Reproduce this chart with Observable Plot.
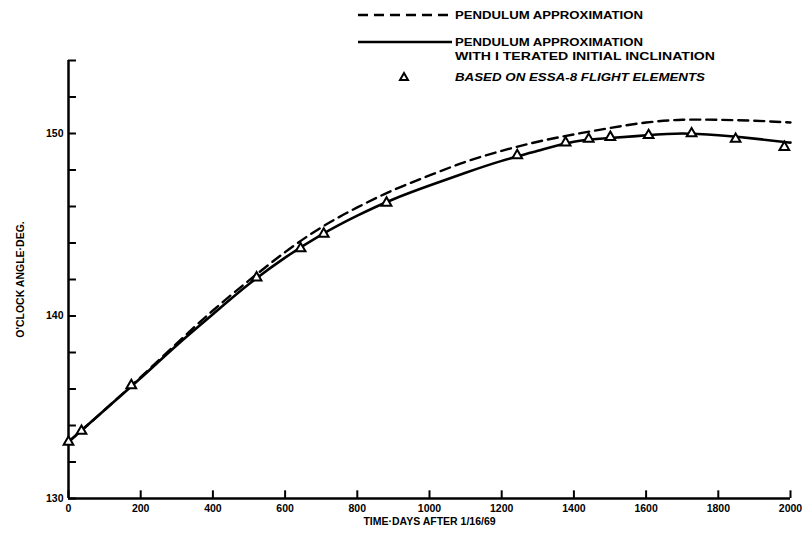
<!DOCTYPE html>
<html>
<head>
<meta charset="utf-8">
<script src="https://cdn.jsdelivr.net/npm/d3@7"></script>
<script src="https://cdn.jsdelivr.net/npm/@observablehq/plot@0.6"></script>
<style>
  html, body { margin: 0; padding: 0; background: #fff; }
  #wrap { position: relative; width: 806px; height: 541px; }
  #legend { position: absolute; left: 0; top: 0; pointer-events: none; }
  text { font-family: "Liberation Sans", Arial, sans-serif; }
</style>
</head>
<body>
<div id="wrap"></div>
<script>
// ---- data ----
const days = [0, 100, 200, 300, 400, 500, 600, 700, 800, 900, 1000,
              1100, 1200, 1300, 1400, 1500, 1600, 1700, 1800, 1900, 2000];
const pendulum = [133.1, 134.85, 136.65, 138.5, 140.3, 141.95, 143.5, 144.85, 145.95, 146.9, 147.7,
                  148.45, 149.05, 149.55, 149.95, 150.3, 150.6, 150.75, 150.75, 150.7, 150.6];
const iterated = [133.1, 134.85, 136.6, 138.4, 140.1, 141.75, 143.2, 144.45, 145.5, 146.4, 147.15,
                  147.85, 148.5, 149.05, 149.55, 149.75, 149.9, 150.0, 149.9, 149.72, 149.5];
const essaDays = [0, 36, 174, 521, 643, 707, 881, 1243, 1377, 1441, 1501, 1607, 1726, 1848, 1983];
const essaDeg = [133.1, 133.7, 136.2, 142.1, 143.7, 144.5, 146.2, 148.8, 149.5, 149.7, 149.8, 149.9, 150.0, 149.7, 149.25];
const xTicks = [0, 200, 400, 600, 800, 1000, 1200, 1400, 1600, 1800, 2000];
const yTicks = [130, 132, 134, 136, 138, 140, 142, 144, 146, 148, 150, 152, 154];
const yLabels = [130, 140, 150];

const pendData = days.map((d, i) => ({day: d, deg: pendulum[i]}));
const iterData = days.map((d, i) => ({day: d, deg: iterated[i]}));
const essaData = essaDays.map((d, i) => ({day: d, deg: essaDeg[i]}));

const chart = Plot.plot({
  width: 806,
  height: 541,
  marginLeft: 68,
  marginRight: 16,
  marginTop: 60,
  marginBottom: 43,
  style: {background: "#fff", color: "#000", fontFamily: "'Liberation Sans', Arial, sans-serif", fontWeight: "bold", fontSize: "10px"},
  x: {domain: [0, 2000]},
  y: {domain: [130, 154]},
  marks: [
    Plot.axisX({ticks: xTicks, tickFormat: d => String(d), tickSize: 0, tickPadding: 6, fontWeight: "bold", fontSize: 10.5,
      label: "TIME·DAYS AFTER 1/16/69", labelAnchor: "center", labelOffset: 26, labelArrow: "none"}),
    Plot.axisY({ticks: yLabels, tickFormat: d => String(d), tickSize: 0, tickPadding: 5, fontWeight: "bold", fontSize: 10.5,
      label: "O'CLOCK ANGLE·DEG.", labelAnchor: "center", labelOffset: 52, labelArrow: "none"}),
    // inward tick marks
    Plot.ruleX(xTicks, {x: d => d, y1: 130, y2: 130.42, stroke: "#000", strokeWidth: 2}),
    Plot.ruleY(yTicks, {y: d => d, x1: 0, x2: 22, stroke: "#000", strokeWidth: 2}),
    // axis lines
    Plot.ruleY([130], {x1: 0, x2: 2000, stroke: "#000", strokeWidth: 2.5}),
    Plot.ruleX([0], {y1: 130, y2: 154, stroke: "#000", strokeWidth: 2.5}),
    // curves
    Plot.line(pendData, {x: "day", y: "deg", curve: "natural", stroke: "#000", strokeWidth: 2.4, strokeDasharray: "10,6"}),
    Plot.line(iterData, {x: "day", y: "deg", curve: "natural", stroke: "#000", strokeWidth: 2.6}),
    Plot.dot(essaData, {x: "day", y: "deg", symbol: "triangle", r: 3.6, fill: "#fff", stroke: "#000", strokeWidth: 2})
  ]
});

const wrap = document.getElementById("wrap");
wrap.appendChild(chart);

// legend overlay
const ns = "http://www.w3.org/2000/svg";
const leg = document.createElementNS(ns, "svg");
leg.setAttribute("id", "legend");
leg.setAttribute("width", 806);
leg.setAttribute("height", 90);
leg.innerHTML = `
  <line x1="358" x2="452" y1="15" y2="15" stroke="#000" stroke-width="2.4" stroke-dasharray="10,6"/>
  <text x="455" y="15" dy="0.35em" font-weight="bold" font-size="10" textLength="188" lengthAdjust="spacingAndGlyphs">PENDULUM APPROXIMATION</text>
  <line x1="358" x2="452" y1="42" y2="42" stroke="#000" stroke-width="2.6"/>
  <text x="455" y="42" dy="0.35em" font-weight="bold" font-size="10" textLength="188" lengthAdjust="spacingAndGlyphs">PENDULUM APPROXIMATION</text>
  <text x="455" y="56" dy="0.35em" font-weight="bold" font-size="10" textLength="260" lengthAdjust="spacingAndGlyphs">WITH I TERATED INITIAL INCLINATION</text>
  <path d="M404,73 L408,80 L400,80 Z" fill="#fff" stroke="#000" stroke-width="2"/>
  <text x="455" y="77" dy="0.35em" font-weight="bold" font-style="italic" font-size="10" textLength="250" lengthAdjust="spacingAndGlyphs">BASED ON ESSA-8 FLIGHT ELEMENTS</text>
`;
wrap.appendChild(leg);
</script>
</body>
</html>
